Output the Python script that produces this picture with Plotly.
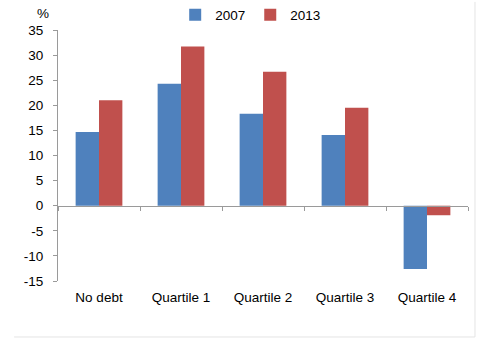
import plotly.graph_objects as go

categories = ["No debt", "Quartile 1", "Quartile 2", "Quartile 3", "Quartile 4"]
values_2007 = [14.7, 24.3, 18.3, 14.1, -12.6]
values_2013 = [21.0, 31.7, 26.7, 19.5, -1.9]
series_names = ["2007", "2013"]
y_ticks = [-15, -10, -5, 0, 5, 10, 15, 20, 25, 30, 35]

BLUE = "#4F81BD"
RED = "#C0504D"
AXIS = "#9a9a9a"
FONT = "Liberation Sans, Arial, sans-serif"

y_min, y_max = -15, 35
zero_pos = (0 - y_min) / (y_max - y_min)

fig = go.Figure()
fig.add_trace(go.Bar(x=categories, y=values_2007, name=series_names[0],
                     marker=dict(color=BLUE, line=dict(width=0))))
fig.add_trace(go.Bar(x=categories, y=values_2013, name=series_names[1],
                     marker=dict(color=RED, line=dict(width=0))))

fig.update_layout(
    width=480, height=342,
    margin=dict(l=58, r=12, t=30, b=61, autoexpand=False),
    paper_bgcolor="white", plot_bgcolor="white",
    font=dict(family=FONT, size=13.5, color="#000000"),
    barmode="group", bargap=0.43, bargroupgap=0,
    showlegend=True,
    legend=dict(orientation="h", x=0.47, xanchor="center", y=1.06, yanchor="middle",
                font=dict(size=13.5), itemwidth=30, traceorder="normal",
                bgcolor="rgba(0,0,0,0)"),
    xaxis=dict(type="category", categoryarray=categories, range=[-0.5, len(categories) - 0.5],
               anchor="free", position=zero_pos,
               showline=True, linecolor=AXIS, linewidth=1,
               ticks="outside", tickson="boundaries", ticklen=4, tickcolor=AXIS,
               showgrid=False, zeroline=False,
               ticklabelstandoff=79, tickfont=dict(size=13.5)),
    yaxis=dict(range=[y_min, y_max], tickvals=y_ticks, ticktext=[str(v) for v in y_ticks],
               showline=True, linecolor=AXIS, linewidth=1,
               ticks="outside", ticklen=4, tickcolor=AXIS,
               showgrid=False, zeroline=False, ticklabelstandoff=7,
               tickfont=dict(size=13.5)),
    annotations=[dict(text="%", xref="paper", yref="paper", x=-0.037, y=1.064,
                      xanchor="center", yanchor="middle", showarrow=False,
                      font=dict(size=13.5))],
    shapes=[
        dict(type="line", xref="paper", yref="paper", x0=-0.107, x1=1.017, y0=-0.223, y1=-0.223,
             line=dict(color="#e4e4e4", width=1)),
        dict(type="line", xref="paper", yref="paper", x0=1.017, x1=1.017, y0=-0.223, y1=1.112,
             line=dict(color="#e4e4e4", width=1)),
    ],
)

fig.write_html("out.html")
